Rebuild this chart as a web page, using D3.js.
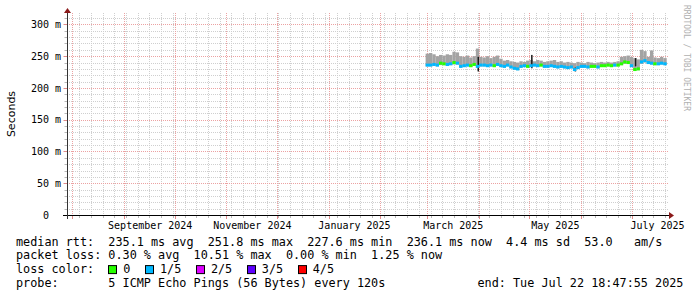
<!DOCTYPE html>
<html>
<head>
<meta charset="utf-8">
<script src="https://cdn.jsdelivr.net/npm/d3@7"></script>
<style>
  html, body { margin: 0; padding: 0; background: #fff; }
  svg { display: block; }
  text { font-family: "DejaVu Sans Mono", monospace; fill: #000; white-space: pre; }
</style>
</head>
<body>
<svg width="697" height="297"></svg>
<script>
// median rtt per 2-day slot (ms), starting 28 Feb 2025
let med = [236,236,237,236,239,238,237,238,240,239,
           234,235,236,235,237,234,236,236,235,236,
           235,237,235,234,236,233,231,230,234,235,
           234,235,236,235,236,234,234,235,234,233,
           234,233,232,233,229,232,234,234,233,234,
           234,233,235,235,236,235,236,236,238,241,
           240,235,229,230,241,243,240,239,238,238,
           239,238];
// top of the smoke (slowest ping)
let smokeHi = [254,255,253,250,252,251,253,252,257,256,
               250,249,251,248,250,262,249,248,250,247,
               249,251,246,243,244,242,241,240,242,241,
               243,244,242,244,243,241,242,243,244,241,
               242,240,241,240,239,241,240,239,241,240,
               239,240,241,240,241,240,241,242,249,250,
               251,249,247,245,260,258,249,259,248,247,
               249,247];
// bottom of the smoke (fastest ping)
let smokeLo = [234,234,235,234,236,236,235,236,237,237,
               232,233,234,233,235,232,234,234,233,234,
               233,235,233,232,234,231,229,228,232,233,
               232,233,234,233,234,232,232,233,232,231,
               232,231,230,231,227,230,232,232,231,232,
               232,231,233,233,234,233,234,234,236,238,
               238,233,227,228,238,240,238,237,236,236,
               237,236];
// loss level index per slot (0 = no loss, 1 = 1/5)
let loss = [1,1,1,1,0,0,1,1,0,1,
            1,1,1,0,0,1,1,1,1,1,
            0,1,1,1,1,1,1,1,1,1,
            0,1,1,1,0,1,1,1,1,1,
            1,1,1,1,1,1,1,1,1,0,
            0,1,0,0,0,0,1,0,0,0,
            0,1,0,0,1,1,1,1,0,1,
            1,1];
// dark inner smoke spikes
let spikeDates = ['2025-03-31', '2025-05-02', '2025-05-28', '2025-07-03'];
let spikeLo = [226, 231, 226, 234];
let spikeHi = [249, 252, 232, 247];

let lossLabels = ['0', '1/5', '2/5', '3/5', '4/5'];
let lossColors = ['#26ff00', '#00b8ff', '#dd00ff', '#5e00ff', '#ff0000'];

let yTicks = [0, 50, 100, 150, 200, 250, 300];

let legendRows = [
  'median rtt:  235.1 ms avg  251.8 ms max  227.6 ms min  236.1 ms now  4.4 ms sd  53.0   am/s',
  'packet loss: 0.30 % avg  10.51 % max  0.00 % min  1.25 % now',
  'loss color:',
  'probe:       5 ICMP Echo Pings (56 Bytes) every 120s'
];
let endLabel = 'end: Tue Jul 22 18:47:55 2025';

let endTime = new Date(2025, 6, 22, 18, 47, 55);
let startTime = d3.timeDay.offset(endTime, -359);
let firstSlot = new Date(2025, 1, 28);

let svg = d3.select('svg');

let x = d3.scaleTime().domain([startTime, endTime]).range([67, 668]);
let y = d3.scaleLinear().domain([0, 318]).range([215, 13]);
let crisp = v => Math.round(v) + 0.5;

let slots = med.map((m, i) => {
  let t0 = d3.timeDay.offset(firstSlot, i * 2);
  let t1 = d3.timeDay.offset(firstSlot, (i + 1) * 2);
  if (t1 > endTime) t1 = endTime;
  return { t0: t0, t1: t1, med: m, lo: smokeLo[i], hi: smokeHi[i], loss: loss[i] };
});

// grid
let months = d3.timeMonth.range(d3.timeMonth.ceil(startTime), endTime);
let weeks = d3.timeMonday.range(startTime, endTime)
  .filter(d => d.getDate() !== 1);
let minorY = d3.range(10, 318, 10).filter(v => v % 50 !== 0);
let majorY = yTicks.filter(v => v > 0);

let grid = svg.append('g').attr('stroke-dasharray', '1,1').attr('stroke-width', 1);
grid.selectAll('.vmin').data(weeks).enter().append('line')
  .attr('x1', d => crisp(x(d))).attr('x2', d => crisp(x(d)))
  .attr('y1', 13).attr('y2', 215).attr('stroke', '#cfcfcf');
grid.selectAll('.hmin').data(minorY).enter().append('line')
  .attr('x1', 67).attr('x2', 668)
  .attr('y1', d => crisp(y(d))).attr('y2', d => crisp(y(d))).attr('stroke', '#cfcfcf');
grid.selectAll('.vmaj').data(months).enter().append('line')
  .attr('x1', d => crisp(x(d))).attr('x2', d => crisp(x(d)))
  .attr('y1', 13).attr('y2', 215).attr('stroke', '#eca2a2');
grid.selectAll('.hmaj').data(majorY).enter().append('line')
  .attr('x1', 67).attr('x2', 668)
  .attr('y1', d => crisp(y(d))).attr('y2', d => crisp(y(d))).attr('stroke', '#eca2a2');

// smoke
let plot = svg.append('g');
plot.selectAll('.smoke').data(slots).enter().append('rect')
  .attr('x', d => x(d.t0))
  .attr('width', d => x(d.t1) - x(d.t0))
  .attr('y', d => y(d.hi))
  .attr('height', d => y(d.lo) - y(d.hi))
  .attr('fill', '#a3a3a3');

plot.selectAll('.spike').data(spikeDates).enter().append('rect')
  .attr('x', d => x(d3.timeParse('%Y-%m-%d')(d)))
  .attr('width', 1.5)
  .attr('y', (d, i) => y(spikeHi[i]))
  .attr('height', (d, i) => y(spikeLo[i]) - y(spikeHi[i]))
  .attr('fill', '#1a1a1a');

// median coloured by loss
plot.selectAll('.median').data(slots).enter().append('rect')
  .attr('x', d => x(d.t0))
  .attr('width', d => x(d.t1) - x(d.t0))
  .attr('y', d => y(d.med) - 1.5)
  .attr('height', 3)
  .attr('fill', d => lossColors[d.loss]);

// ticks
let ticks = svg.append('g');
ticks.selectAll('.ytmin').data(minorY).enter().append('line')
  .attr('x1', 64.5).attr('x2', 67).attr('y1', d => crisp(y(d))).attr('y2', d => crisp(y(d)))
  .attr('stroke', '#b8b8b8');
ticks.selectAll('.ytmaj').data(majorY).enter().append('line')
  .attr('x1', 63.5).attr('x2', 67).attr('y1', d => crisp(y(d))).attr('y2', d => crisp(y(d)))
  .attr('stroke', '#e08c8c');
ticks.selectAll('.xtmin').data(weeks).enter().append('line')
  .attr('x1', d => crisp(x(d))).attr('x2', d => crisp(x(d))).attr('y1', 215).attr('y2', 218)
  .attr('stroke', '#b8b8b8');
ticks.selectAll('.xtmaj').data(months).enter().append('line')
  .attr('x1', d => crisp(x(d))).attr('x2', d => crisp(x(d))).attr('y1', 215).attr('y2', 219)
  .attr('stroke', '#e08c8c');

// axes
svg.append('line').attr('x1', 63).attr('x2', 670).attr('y1', 215.5).attr('y2', 215.5)
  .attr('stroke', '#000');
svg.append('line').attr('x1', 67.5).attr('x2', 67.5).attr('y1', 11).attr('y2', 219)
  .attr('stroke', '#333');
svg.append('path').attr('d', 'M64,13L71,13L67.5,8Z').attr('fill', '#8b1a1a');
svg.append('path').attr('d', 'M669,212L669,219L674,215.5Z').attr('fill', '#8b1a1a');

// y labels
svg.selectAll('.ylab').data(yTicks).enter().append('text')
  .attr('x', 61).attr('y', d => y(d) + 3.6)
  .attr('text-anchor', 'end').attr('font-size', '10px')
  .text(d => d === 0 ? '0  ' : d + ' m');

// x labels every two months, centred half a month in
let labelMonths = d3.timeMonth.every(2).range(d3.timeMonth.floor(startTime), endTime)
  .filter(d => d3.timeDay.offset(d, 15) > startTime);
svg.selectAll('.xlab').data(labelMonths).enter().append('text')
  .attr('x', d => x(d3.timeHour.offset(d, 15.5 * 24)))
  .attr('y', 228.5).attr('text-anchor', 'middle').attr('font-size', '10px')
  .text(d => d3.timeFormat('%B %Y')(d));

// y title
svg.append('text')
  .attr('transform', 'translate(14.5,114) rotate(-90)')
  .attr('text-anchor', 'middle')
  .style('font-family', '"DejaVu Sans", sans-serif')
  .attr('font-size', '11px')
  .text('Seconds');

// watermark
svg.append('text')
  .attr('transform', 'translate(684,5) rotate(90)')
  .attr('font-size', '8px')
  .style('fill', '#b0b0b0')
  .text('RRDTOOL / TOBI OETIKER');

// legend
let cw = 7.1;
let rowY = [245.5, 259.3, 273.1, 286.9];
svg.selectAll('.leg').data(legendRows).enter().append('text')
  .attr('x', 16).attr('y', (d, i) => rowY[i])
  .attr('font-size', '11.8px')
  .text(d => d);
svg.append('text')
  .attr('x', 16 + 65 * cw).attr('y', rowY[3])
  .attr('font-size', '11.8px')
  .text(endLabel);

let lx = 16 + 13 * cw;
lossLabels.forEach((lab, i) => {
  svg.append('rect')
    .attr('x', Math.round(lx) + 0.5).attr('y', rowY[2] - 8 + 0.5)
    .attr('width', 8).attr('height', 8)
    .attr('fill', lossColors[i]).attr('stroke', '#000');
  svg.append('text')
    .attr('x', lx + 15).attr('y', rowY[2])
    .attr('font-size', '11.8px')
    .text(lab);
  lx += 15 + lab.length * cw + 14.6;
});
</script>
</body>
</html>
